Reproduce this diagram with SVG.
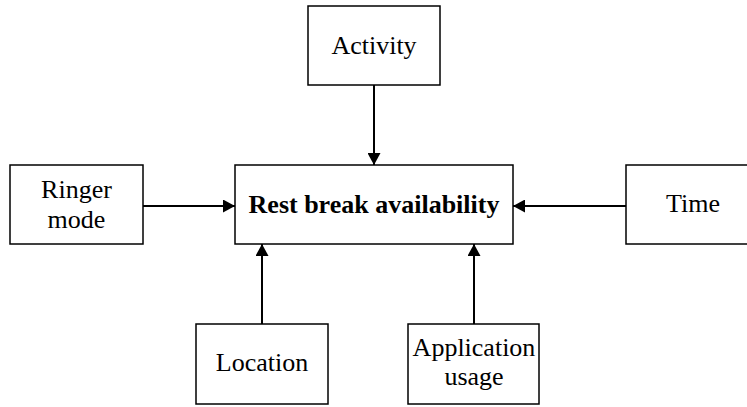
<svg xmlns="http://www.w3.org/2000/svg" width="747" height="407" viewBox="0 0 747 407">
<defs>
<marker id="ah" viewBox="0 0 12 13" refX="12" refY="6.5" markerWidth="12" markerHeight="13" markerUnits="userSpaceOnUse" orient="auto">
<path d="M0,0 L12,6.5 L0,13 Z" fill="#000"/>
</marker>
<style>
.box{fill:#fff;stroke:#000;stroke-width:1.5}
.t{font-family:"Liberation Serif","Times New Roman",serif;font-size:26px;fill:#000;text-anchor:middle}
.b{font-weight:bold}
.c{stroke:#000;stroke-width:2;fill:none;marker-end:url(#ah)}
</style>
</defs>
<rect width="747" height="407" fill="#fff"/>
<g id="connectors">
<line class="c" x1="374" y1="85" x2="374" y2="165"/>
<line class="c" x1="143" y1="206" x2="235" y2="206"/>
<line class="c" x1="626" y1="206" x2="513" y2="206"/>
<line class="c" x1="262" y1="324" x2="262" y2="244"/>
<line class="c" x1="474" y1="324" x2="474" y2="244"/>
</g>
<g id="activity">
<rect class="box" x="308" y="6" width="132" height="79"/>
<text class="t" x="374" y="54">Activity</text>
</g>
<g id="rest">
<rect class="box" x="235" y="165" width="278" height="79"/>
<text class="t b" x="374" y="213">Rest break availability</text>
</g>
<g id="ringer">
<rect class="box" x="10" y="165" width="133" height="79"/>
<text class="t" x="76.5" y="198">Ringer</text>
<text class="t" x="76.5" y="228">mode</text>
</g>
<g id="time">
<rect class="box" x="626" y="165" width="133" height="79"/>
<text class="t" x="693" y="212">Time</text>
</g>
<g id="location">
<rect class="box" x="196" y="324" width="132" height="80"/>
<text class="t" x="262" y="371">Location</text>
</g>
<g id="application">
<rect class="box" x="408" y="324" width="131" height="80"/>
<text class="t" x="474" y="356">Application</text>
<text class="t" x="474" y="385">usage</text>
</g>
</svg>
